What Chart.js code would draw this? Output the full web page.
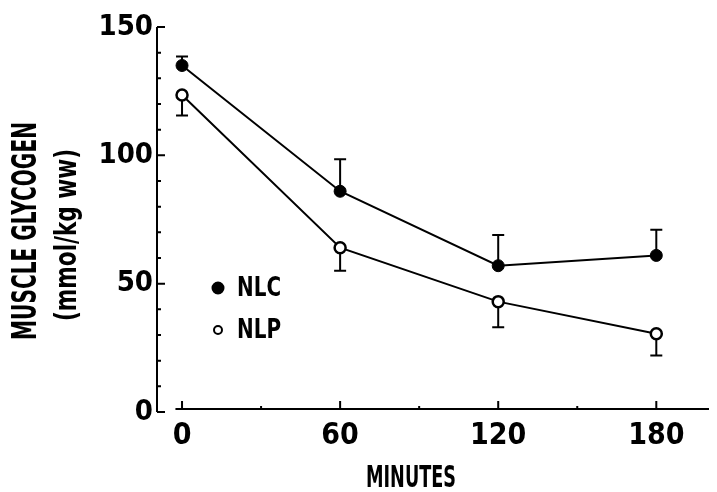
<!DOCTYPE html>
<html>
<head>
<meta charset="utf-8">
<script src="https://cdn.jsdelivr.net/npm/chart.js@4"></script>
<style>
  html, body { margin: 0; padding: 0; background: #fff; }
  #wrap { width: 717px; height: 492px; position: relative; }
</style>
</head>
<body>
<div id="wrap"><canvas id="myChart"></canvas></div>
<script>
const ctx = document.getElementById("myChart");

// time points (min) and glycogen values (mmol/kg ww)
var minutes = [0, 60, 120, 180];
var nlc = [135, 86, 57, 61];
var nlcErr = [3.5, 12.5, 12, 10];
var nlp = [123.5, 64, 43, 30.5];
var nlpErr = [8, 9, 10, 8.5];

var xTicks = [0, 60, 120, 180];
var yTicks = [0, 50, 100, 150];

var FONT = "'Liberation Sans Narrow', 'DejaVu Sans Condensed', 'Liberation Sans', sans-serif";
var INK = "#000";

// error bars: NLC drawn upward, NLP downward
var errorBars = {
  id: "errorBars",
  beforeDatasetsDraw(chart) {
    const c = chart.ctx;
    const xs = chart.scales.x, ys = chart.scales.y;
    c.save();
    c.strokeStyle = INK;
    c.lineWidth = 2;
    chart.data.datasets.forEach(function (ds) {
      ds.data.forEach(function (p, i) {
        const px = xs.getPixelForValue(p.x);
        const end = p.y + ds.errDir * ds.err[i];
        const y0 = ys.getPixelForValue(p.y);
        const y1 = ys.getPixelForValue(end);
        c.beginPath();
        c.moveTo(px, y0);
        c.lineTo(px, y1);
        c.moveTo(px - 6, y1);
        c.lineTo(px + 6, y1);
        c.stroke();
      });
    });
    c.restore();
  },
};

// hand-drawn style axes: y axis with ticks pointing right, x axis detached
var axes = {
  id: "axes",
  beforeDatasetsDraw(chart) {
    const c = chart.ctx;
    const xs = chart.scales.x, ys = chart.scales.y;
    const ax = chart.chartArea.left;
    c.save();
    c.strokeStyle = INK;
    c.lineWidth = 2;
    c.beginPath();
    c.moveTo(ax, ys.getPixelForValue(0));
    c.lineTo(ax, ys.getPixelForValue(150));
    for (let v = 0; v <= 150; v += 10) {
      const py = ys.getPixelForValue(v);
      c.moveTo(ax, py);
      c.lineTo(ax + (v % 50 === 0 ? 8 : 4), py);
    }
    const by = ys.getPixelForValue(0) - 3;
    c.moveTo(xs.getPixelForValue(-2.5), by);
    c.lineTo(chart.chartArea.right, by);
    for (let m = 0; m <= 180; m += 30) {
      const px = xs.getPixelForValue(m);
      c.moveTo(px, by);
      c.lineTo(px, by - (m % 60 === 0 ? 8 : 3));
    }
    c.stroke();
    c.restore();
  },
};

// axis titles and the small legend inside the plot
var labels = {
  id: "labels",
  afterDraw(chart) {
    const c = chart.ctx;
    c.save();
    c.fillStyle = INK;
    c.textAlign = "center";
    c.textBaseline = "middle";
    c.font = "bold 30px " + FONT;
    c.fillText("MINUTES", 411, 479, 90);

    c.translate(0, 0);
    c.save();
    c.translate(27, 231);
    c.rotate(-Math.PI / 2);
    c.font = "bold 34px " + FONT;
    c.fillText("MUSCLE GLYCOGEN", 0, 0, 218);
    c.restore();
    c.save();
    c.translate(68, 235);
    c.rotate(-Math.PI / 2);
    c.font = "bold 30px " + FONT;
    c.fillText("(mmol/kg ww)", 0, 0, 172);
    c.restore();

    const rows = [288, 330];
    c.textAlign = "left";
    c.font = "bold 27px " + FONT;
    chart.data.datasets.forEach(function (ds, i) {
      const y = rows[i];
      c.beginPath();
      c.arc(218, y, i === 0 ? 5.5 : 4, 0, Math.PI * 2);
      c.fillStyle = ds.pointBackgroundColor;
      c.fill();
      c.lineWidth = 2;
      c.strokeStyle = INK;
      c.stroke();
      c.fillStyle = INK;
      c.fillText(ds.label, 237, y + 1, 44);
    });
    c.restore();
  },
};

function points(ys) {
  return minutes.map(function (m, i) {
    return { x: m, y: ys[i] };
  });
}

new Chart(ctx, {
  type: "line",
  data: {
    datasets: [
      {
        label: "NLC",
        data: points(nlc),
        err: nlcErr,
        errDir: 1,
        borderColor: INK,
        borderWidth: 2,
        pointRadius: 6,
        pointBackgroundColor: INK,
        pointBorderColor: INK,
        pointBorderWidth: 1,
        tension: 0,
      },
      {
        label: "NLP",
        data: points(nlp),
        err: nlpErr,
        errDir: -1,
        borderColor: INK,
        borderWidth: 2,
        pointRadius: 5.5,
        pointBackgroundColor: "#fff",
        pointBorderColor: INK,
        pointBorderWidth: 2.5,
        tension: 0,
      },
    ],
  },
  options: {
    responsive: true,
    maintainAspectRatio: false,
    animation: false,
    layout: { padding: { top: 27, right: 0, bottom: 0, left: 0 } },
    plugins: {
      legend: { display: false },
      tooltip: { enabled: false },
    },
    scales: {
      x: {
        type: "linear",
        min: -9.5,
        max: 200,
        afterFit(s) { s.height = 80; },
        afterBuildTicks(s) { s.ticks = xTicks.map(function (v) { return { value: v }; }); },
        grid: { display: false, drawTicks: false },
        border: { display: false },
        ticks: { color: INK, padding: 6, font: { family: FONT, size: 30, weight: "bold" } },
      },
      y: {
        min: 0,
        max: 150,
        afterFit(s) { s.width = 157; },
        afterBuildTicks(s) { s.ticks = yTicks.map(function (v) { return { value: v }; }); },
        grid: { display: false, drawTicks: false },
        border: { display: false },
        ticks: { color: INK, padding: 4, font: { family: FONT, size: 29, weight: "bold" } },
      },
    },
  },
  plugins: [axes, errorBars, labels],
});
</script>
</body>
</html>
